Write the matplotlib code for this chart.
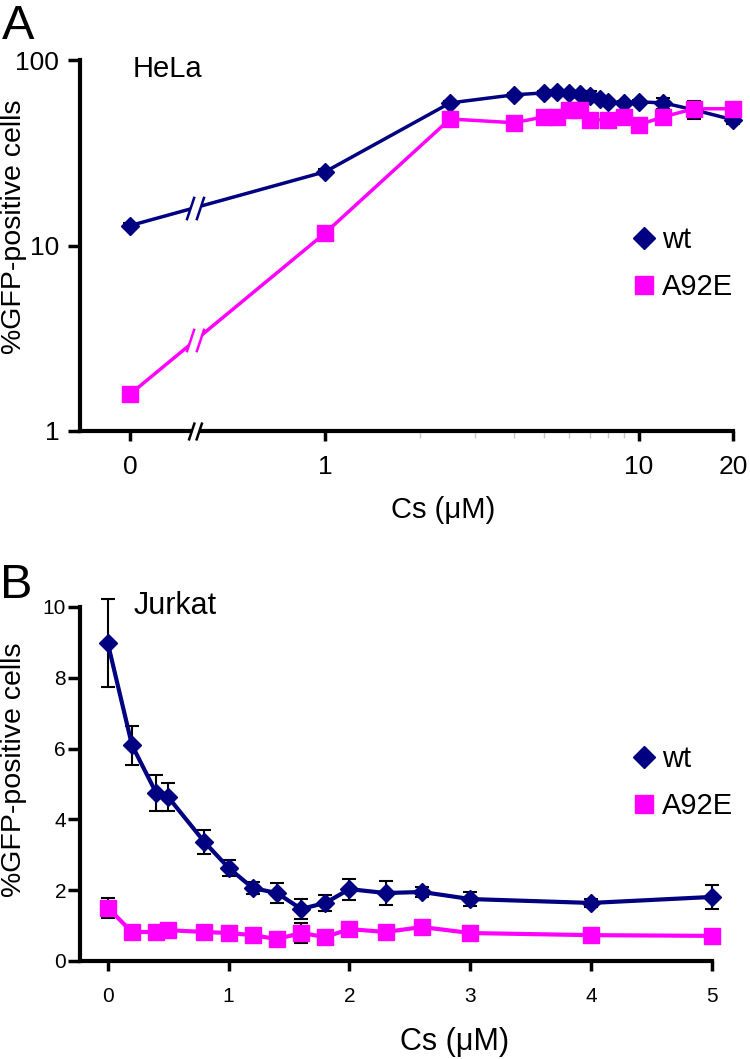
import numpy as np
import matplotlib
matplotlib.use("Agg")
import matplotlib.pyplot as plt
from matplotlib.path import Path
from matplotlib.lines import Line2D
from matplotlib.ticker import FixedLocator, NullLocator

plt.rcParams['font.family'] = ['Liberation Sans', 'DejaVu Sans']

NAVY = '#000080'
MAGENTA = '#ff00ff'

# ---- panel A: HeLa (log-log, 0 shown on a broken axis)
hela_wt_x = [0, 1, 2.5, 4, 5, 5.5, 6, 6.5, 7, 7.5, 8, 9, 10, 12, 15, 20]
hela_wt_y = [12.8, 25.0, 58.7, 64.9, 66.5, 67.3, 66.5, 65.7, 64.1, 61.7, 59.5, 58.7, 59.5, 58.7, 53.9, 47.6]
hela_wt_err = [0.4, 0.8, 1.5, 1.5, 1.5, 1.5, 1.5, 1.5, 4.0, 1.5, 1.5, 1.5, 1.5, 4.0, 6.0, 2.5]
hela_a92e_x = [0, 1, 2.5, 4, 5, 5.5, 6, 6.5, 7, 8, 9, 10, 12, 15, 20]
hela_a92e_y = [1.58, 11.7, 48.1, 45.9, 49.4, 49.4, 53.9, 53.9, 47.6, 47.6, 49.4, 44.7, 49.4, 54.6, 54.6]

hela_xticks = [0, 1, 10, 20]
hela_xminor = [2, 3, 4, 5, 6, 7, 8, 9]
hela_yticks = [1, 10, 100]

# ---- panel B: Jurkat (linear)
jurkat_x = [0, 0.2, 0.4, 0.5, 0.8, 1.0, 1.2, 1.4, 1.6, 1.8, 2.0, 2.3, 2.6, 3.0, 4.0, 5.0]
jurkat_wt_y = [8.98, 6.1, 4.75, 4.63, 3.36, 2.63, 2.06, 1.92, 1.47, 1.64, 2.03, 1.92, 1.95, 1.75, 1.64, 1.81]
jurkat_wt_err = [1.25, 0.55, 0.5, 0.4, 0.35, 0.22, 0.18, 0.28, 0.28, 0.22, 0.3, 0.35, 0.15, 0.2, 0.12, 0.33]
jurkat_a92e_y = [1.5, 0.82, 0.82, 0.87, 0.82, 0.79, 0.73, 0.62, 0.79, 0.68, 0.9, 0.82, 0.96, 0.79, 0.73, 0.71]
jurkat_a92e_err = [0.28, 0.05, 0.05, 0.05, 0.05, 0.05, 0.05, 0.05, 0.27, 0.05, 0.05, 0.05, 0.05, 0.05, 0.05, 0.05]

jurkat_xticks = [0, 1, 2, 3, 4, 5]
jurkat_yticks = [0, 2, 4, 6, 8, 10]

# where "0" and the break sit on the log x axis (in decades)
ZERO_AT = -0.623
BREAK_X = 10 ** -0.415


def fwd(x):
    x = np.asarray(x, dtype=float)
    return np.where(x > 0, np.log10(np.where(x > 0, x, 1.0)), ZERO_AT)


def inv(y):
    return 10.0 ** np.asarray(y, dtype=float)


# break marks "//"
slashes = Path([(-9, -12), (-1, 12), (1, -12), (9, 12)],
               [Path.MOVETO, Path.LINETO, Path.MOVETO, Path.LINETO])
gap = Path([(-9, -12), (-1, 12), (9, 12), (1, -12), (-9, -12)])


def draw_break(ax, x, y, color, ms, transform=None):
    kw = dict(clip_on=False, zorder=6)
    if transform is not None:
        kw['transform'] = transform
    ax.plot([x], [y], marker=gap, ms=ms, mfc='white', mec='none', ls='none', **kw)
    ax.plot([x], [y], marker=slashes, ms=ms, mfc='none', mec=color, mew=1.8, ls='none', **kw)


def style_axes(ax, labelsize, ypad, xpad):
    for s in ['top', 'right']:
        ax.spines[s].set_visible(False)
    for s in ['left', 'bottom']:
        ax.spines[s].set_linewidth(3)
        ax.spines[s].set_capstyle('projecting')
    ax.tick_params(which='major', length=7, width=2.5, labelsize=labelsize)
    ax.tick_params(axis='y', which='major', pad=ypad)
    ax.tick_params(axis='x', which='major', pad=xpad)


fig = plt.figure(figsize=(7.5, 10.59), dpi=100)

# ================= panel A =================
axA = fig.add_axes([80 / 750, 1 - 431 / 1059, 653 / 750, 371 / 1059])
axA.set_xscale('function', functions=(fwd, inv))
axA.set_yscale('log')
axA.set_xlim(10 ** -0.783, 20)
axA.set_ylim(1, 100)

axA.errorbar(hela_wt_x, hela_wt_y, yerr=hela_wt_err, fmt='none', ecolor='black',
             elinewidth=1.5, capsize=5, capthick=1.5, zorder=2, clip_on=False)
axA.plot(hela_wt_x, hela_wt_y, color=NAVY, lw=2.5, marker='D', ms=9.5,
         zorder=3, clip_on=False)
axA.plot(hela_a92e_x, hela_a92e_y, color=MAGENTA, lw=2.5, marker='s', ms=12,
         zorder=4, clip_on=False)


def break_y(xs, ys):
    t = (fwd(BREAK_X) - fwd(xs[0])) / (fwd(xs[1]) - fwd(xs[0]))
    return 10 ** (np.log10(ys[0]) + t * (np.log10(ys[1]) - np.log10(ys[0])))


draw_break(axA, BREAK_X, break_y(hela_wt_x, hela_wt_y), NAVY, 17)
draw_break(axA, BREAK_X, break_y(hela_a92e_x, hela_a92e_y), MAGENTA, 17)
draw_break(axA, BREAK_X, 0, 'black', 13, transform=axA.get_xaxis_transform())

style_axes(axA, 19, 6, 10)
axA.xaxis.set_major_locator(FixedLocator(hela_xticks))
axA.set_xticklabels([str(v) for v in hela_xticks])
axA.xaxis.set_minor_locator(FixedLocator(hela_xminor))
axA.tick_params(axis='x', which='minor', length=5, width=1, color='#c8c8c8')
axA.yaxis.set_major_locator(FixedLocator(hela_yticks))
axA.set_yticklabels([str(v) for v in hela_yticks])
axA.yaxis.set_minor_locator(NullLocator())
axA.tick_params(axis='y', which='major', length=9)

axA.text(0.081, 0.954, 'HeLa', transform=axA.transAxes, fontsize=21, va='baseline')
axA.text(0.556, -0.2345, 'Cs (\u03bcM)', transform=axA.transAxes, fontsize=21,
         ha='center', va='baseline')
fig.text(0.019, 1 - 227 / 1059, '%GFP-positive cells', rotation=90, fontsize=20.5,
         ha='center', va='center')
fig.text(0.003, 1 - 39 / 1059, 'A', fontsize=35, va='baseline')

handlesA = [Line2D([], [], color=NAVY, marker='D', ms=11, ls='none'),
            Line2D([], [], color=MAGENTA, marker='s', ms=13, ls='none')]
axA.legend(handlesA, ['wt', 'A92E'], loc='upper left', bbox_to_anchor=(0.842, 0.553),
           frameon=False, fontsize=21, handlelength=1.0, handletextpad=0.1,
           borderpad=0, borderaxespad=0, labelspacing=0.65, numpoints=1)

# ================= panel B =================
axB = fig.add_axes([80 / 750, 1 - 961 / 1059, 632 / 750, 354 / 1059])
axB.set_xlim(-0.23, 5)
axB.set_ylim(0, 10)

axB.errorbar(jurkat_x, jurkat_a92e_y, yerr=jurkat_a92e_err, fmt='none', ecolor='black',
             elinewidth=1.5, capsize=5, capthick=1.5, zorder=2, clip_on=False)
axB.plot(jurkat_x, jurkat_a92e_y, color=MAGENTA, lw=3, marker='s', ms=11,
         zorder=3, clip_on=False)
axB.errorbar(jurkat_x, jurkat_wt_y, yerr=jurkat_wt_err, fmt='none', ecolor='black',
             elinewidth=1.5, capsize=5, capthick=1.5, zorder=4, clip_on=False)
axB.plot(jurkat_x, jurkat_wt_y, color=NAVY, lw=3, marker='D', ms=9.5,
         zorder=5, clip_on=False)

style_axes(axB, 15, 1, 12)
axB.set_xticks(jurkat_xticks)
axB.set_yticks(jurkat_yticks)
axB.tick_params(axis='y', which='major', length=9)

axB.text(0.084, 0.980, 'Jurkat', transform=axB.transAxes, fontsize=22, va='baseline')
axB.text(0.593, -0.251, 'Cs (\u03bcM)', transform=axB.transAxes, fontsize=22,
         ha='center', va='baseline')
fig.text(0.019, 1 - 770 / 1059, '%GFP-positive cells', rotation=90, fontsize=20.5,
         ha='center', va='center')
fig.text(0.0, 1 - 598 / 1059, 'B', fontsize=35, va='baseline')

handlesB = [Line2D([], [], color=NAVY, marker='D', ms=11, ls='none'),
            Line2D([], [], color=MAGENTA, marker='s', ms=13, ls='none')]
axB.legend(handlesB, ['wt', 'A92E'], loc='upper left', bbox_to_anchor=(0.870, 0.61),
           frameon=False, fontsize=21, handlelength=1.0, handletextpad=0.1,
           borderpad=0, borderaxespad=0, labelspacing=0.65, numpoints=1)

fig.savefig('out.png', dpi=100)
